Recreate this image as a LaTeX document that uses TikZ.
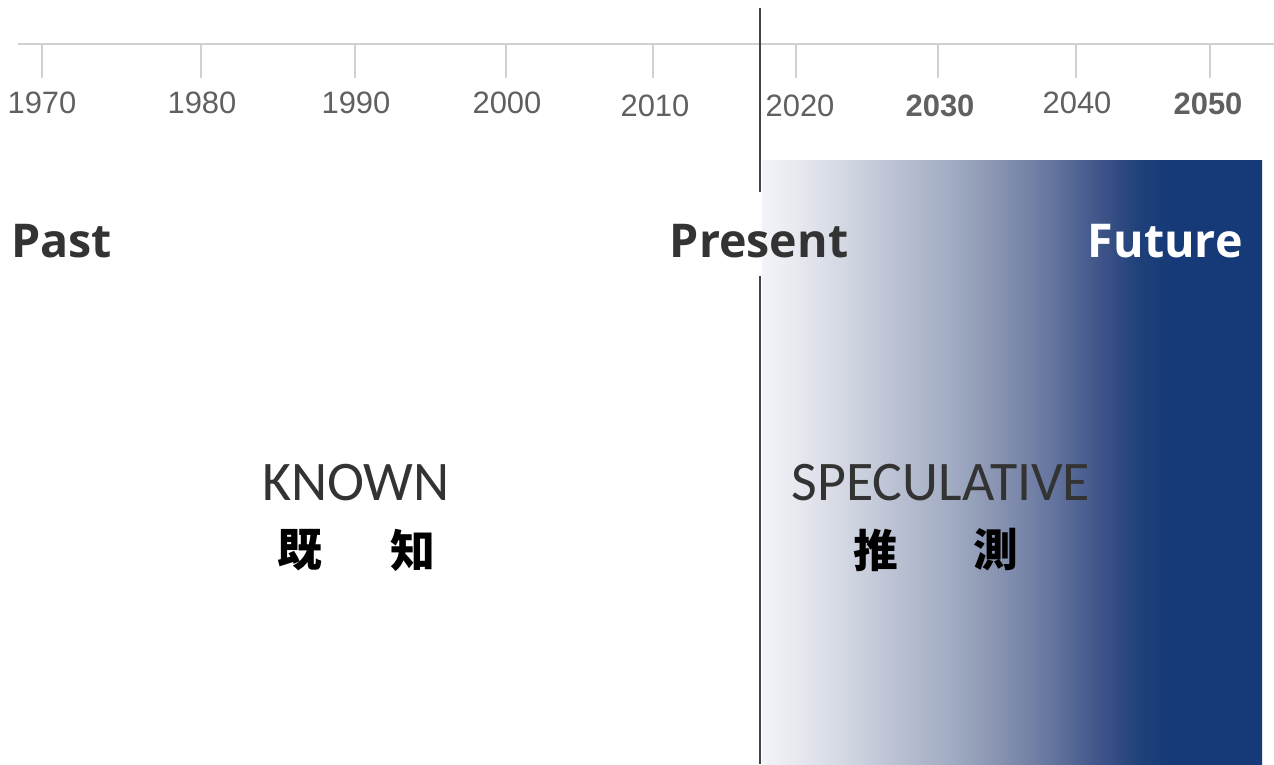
\documentclass[tikz,border=0pt]{standalone}
\usepackage{fontspec}
\setmainfont{Liberation Sans}
\newfontfamily\yearfont{Liberation Sans}
\newfontfamily\headfont{Open Sans}
\newfontfamily\lightfont{Carlito}
\newfontfamily\cjk{Noto Sans CJK JP}
\definecolor{axisgray}{HTML}{D0D0D0}
\definecolor{yeargray}{HTML}{606060}
\definecolor{headgray}{HTML}{333333}
\definecolor{linegray}{HTML}{444444}
\definecolor{navy}{HTML}{163A78}
\definecolor{g0}{HTML}{F3F4F8}
\definecolor{g1}{HTML}{E6E8EF}
\definecolor{g2}{HTML}{D0D5E1}
\definecolor{g3}{HTML}{B8BFD1}
\definecolor{g4}{HTML}{A2ACC3}
\definecolor{g5}{HTML}{8792B0}
\definecolor{g6}{HTML}{66769F}
\definecolor{g7}{HTML}{3F5489}
\definecolor{g8}{HTML}{1F4079}
\pgfdeclarehorizontalshading{specshade}{100bp}{color(0bp)=(g0); color(25bp)=(g0); color(28.8bp)=(g1); color(33.8bp)=(g2); color(38.8bp)=(g3); color(43.8bp)=(g4); color(48.8bp)=(g5); color(53.8bp)=(g6); color(58.8bp)=(g7); color(62.8bp)=(g8); color(66bp)=(navy); color(75bp)=(navy); color(100bp)=(navy)}
\begin{document}
\begin{tikzpicture}[x=0.02cm,y=-0.02cm,
  tick/.style={draw=axisgray,line width=0.8pt},
  year/.style={text=yeargray,font=\yearfont\fontsize{17.6}{20}\selectfont,inner sep=0pt},
  boldyear/.style={year,font=\yearfont\bfseries\fontsize{17.6}{20}\selectfont},
  head/.style={font=\headfont\bfseries\fontsize{26.5}{30}\selectfont,inner sep=0pt},
  light/.style={text=headgray,font=\lightfont\fontsize{31.8}{36}\selectfont,inner sep=0pt},
  kanji/.style={text=black,font=\cjk\bfseries\fontsize{25.5}{28}\selectfont,inner sep=0pt}]
\useasboundingbox (0,0) rectangle (1274,764);
\fill[white] (0,0) rectangle (1274,764);
% gradient block
\path[shading=specshade] (762,160) rectangle (1262,764);
% axis
\coordinate (axL) at (18,44);
\coordinate (axR) at (1274,44);
\draw[tick] (axL) -- (axR);
\foreach \x/\lx/\ly/\yr/\st in {42/42/103/1970/year, 201/202/103/1980/year, 355/356/103/1990/year, 506/507/103/2000/year, 653/655/106/2010/year, 796/800/106/2020/year, 938/940/106/2030/boldyear, 1076/1077/103/2040/year, 1210/1208/104/2050/boldyear}{
  \coordinate (t\yr) at (\x,44);
  \coordinate (b\yr) at (\x,78);
  \draw[tick] (t\yr) -- (b\yr);
  \node[\st] (y\yr) at (\lx,\ly) {\yr};
}
% present line
\node[head,text=headgray] (present) at (759,241) {Present};
\coordinate (ptop) at (760,8);
\coordinate (pa) at (760,192);
\coordinate (pb) at (760,276);
\coordinate (pbot) at (760,764);
\draw[linegray,line width=1.1pt] (ptop) -- (pa);
\draw[linegray,line width=1.1pt] (pb) -- (pbot);
% headings
\node[head,text=headgray,anchor=west] (past) at (11,241) {Past};
\node[head,text=white,anchor=east] (future) at (1243,241) {Future};
% labels
\node[light] (known) at (356,483) {KNOWN};
\node[light] (spec) at (941,483) {SPECULATIVE};
\node[kanji] (k1) at (300,550) {既};
\node[kanji] (k2) at (413,550) {知};
\node[kanji] (s1) at (876,550) {推};
\node[kanji] (s2) at (996,550) {測};
\end{tikzpicture}
\end{document}
